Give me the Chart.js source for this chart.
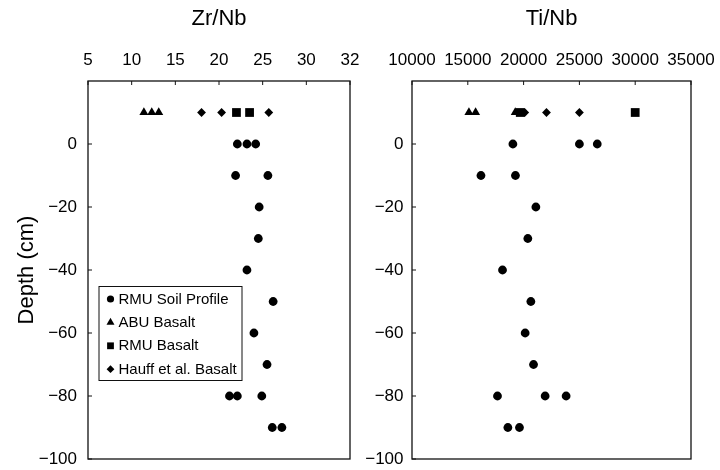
<!DOCTYPE html>
<html lang="en">
<head>
<meta charset="utf-8" />
<title>Zr/Nb and Ti/Nb depth profiles</title>
<script src="https://cdn.jsdelivr.net/npm/chart.js@4.4.1/dist/chart.umd.min.js"></script>
<style>
  html, body { margin: 0; padding: 0; background: #fff; }
  #wrap { position: relative; width: 720px; height: 470px; }
  canvas { position: absolute; top: 0; }
  #left { left: 0; }
  #right { left: 360px; }
</style>
</head>
<body>
<div id="wrap">
  <canvas id="left" width="360" height="470"></canvas>
  <canvas id="right" width="360" height="470"></canvas>
</div>
<script>
// soil samples: depth (cm) and the two ratios
const soilDepth = [0, 0, 0, -10, -10, -20, -30, -40, -50, -60, -70, -80, -80, -80, -90, -90];
const soilZrNb = [22.1, 23.2, 24.2, 21.9, 25.6, 24.6, 24.5, 23.2, 26.2, 24.0, 25.5, 21.2, 22.1, 24.9, 26.1, 27.2];
const soilTiNb = [19040, 25000, 26600, 16180, 19270, 21100, 20380, 18110, 20650, 20140, 20890, 17660, 21930, 23810, 18590, 19630];

// basalt references, all plotted on the +10 row above the profile
const basaltRow = 10;
const abuZrNb = [11.4, 12.3, 13.1];
const abuTiNb = [15100, 15700, 19250];
const rmuZrNb = [22.0, 23.5];
const rmuTiNb = [19700, 30000];
const hauffZrNb = [18.0, 20.3, 25.7];
const hauffTiNb = [20100, 22050, 25000];

const seriesNames = ["RMU Soil Profile", "ABU Basalt", "RMU Basalt", "Hauff et al. Basalt"];

const zrTicks = [5, 10, 15, 20, 25, 30, 35];
const zrTickLabels = ["5", "10", "15", "20", "25", "30", "32"];
const tiTicks = [10000, 15000, 20000, 25000, 30000, 35000];
const tiTickLabels = ["10000", "15000", "20000", "25000", "30000", "35000"];
const depthTicks = [-100, -80, -60, -40, -20, 0];
const depthTickLabels = ["\u2212100", "\u221280", "\u221260", "\u221240", "\u221220", "0"];

Chart.defaults.font.family = '"Liberation Sans", Arial, sans-serif';
Chart.defaults.color = "#000";

function pts(xs, ys) {
  return xs.map(function (x, i) { return { x: x, y: Array.isArray(ys) ? ys[i] : ys }; });
}

const styles = [
  { pointStyle: "circle", radius: 4.4, legendRadius: 3.6 },
  { pointStyle: "triangle", radius: 5.2, legendRadius: 4.6 },
  { pointStyle: "rect", radius: 6.2, legendRadius: 4.8 },
  { pointStyle: "rectRot", radius: 4.4, legendRadius: 3.9 }
];

function datasets(groups) {
  return groups.map(function (data, i) {
    return {
      label: seriesNames[i],
      data: data,
      pointStyle: styles[i].pointStyle,
      pointRadius: styles[i].radius,
      pointHoverRadius: styles[i].radius,
      backgroundColor: "#000",
      borderColor: "#000",
      borderWidth: 0,
      showLine: false
    };
  });
}

// box around the plot plus short inward tick marks
const frame = {
  id: "frame",
  afterDraw(chart) {
    const ctx = chart.ctx, a = chart.chartArea, sx = chart.scales.x, sy = chart.scales.y;
    ctx.save();
    ctx.strokeStyle = "#111";
    ctx.lineWidth = 1.3;
    ctx.strokeRect(a.left, a.top, a.right - a.left, a.bottom - a.top);
    ctx.lineWidth = 1;
    ctx.beginPath();
    sx.ticks.forEach(function (t) {
      const px = sx.getPixelForValue(t.value);
      ctx.moveTo(px, a.top);
      ctx.lineTo(px, a.top + 4);
    });
    sy.ticks.forEach(function (t) {
      const py = sy.getPixelForValue(t.value);
      ctx.moveTo(a.left, py);
      ctx.lineTo(a.left + 4, py);
    });
    ctx.stroke();
    ctx.restore();
  }
};

// boxed legend sitting inside the left panel
const boxLegend = {
  id: "boxLegend",
  afterDraw(chart) {
    const ctx = chart.ctx, a = chart.chartArea;
    const x0 = a.left + 11, y0 = 286.5, w = 143, h = 94;
    ctx.save();
    ctx.fillStyle = "#fff";
    ctx.fillRect(x0, y0, w, h);
    ctx.strokeStyle = "#111";
    ctx.lineWidth = 1;
    ctx.strokeRect(x0, y0, w, h);
    ctx.font = '15px "Liberation Sans", Arial, sans-serif';
    ctx.textBaseline = "middle";
    chart.data.datasets.forEach(function (ds, i) {
      const cy = y0 + 12.5 + i * 23.4;
      ctx.fillStyle = "#000";
      Chart.helpers.drawPoint(ctx, {
        pointStyle: ds.pointStyle, radius: styles[i].legendRadius, rotation: 0, borderWidth: 0
      }, x0 + 11.5, cy);
      ctx.fillStyle = "#000";
      ctx.fillText(ds.label, x0 + 19.5, cy + 0.5);
    });
    ctx.restore();
  }
};

function options(cfg) {
  return {
    responsive: false,
    animation: false,
    events: [],
    layout: { padding: { left: 0, top: 0, right: cfg.padRight, bottom: 11 } },
    plugins: { legend: { display: false }, tooltip: { enabled: false } },
    scales: {
      x: {
        type: "linear",
        position: "top",
        min: cfg.xTicks[0],
        max: cfg.xTicks[cfg.xTicks.length - 1],
        afterBuildTicks: function (s) { s.ticks = cfg.xTicks.map(function (v) { return { value: v }; }); },
        afterFit: function (s) { s.height = 81; s.paddingLeft = 0; s.paddingRight = 0; },
        grid: { display: false, drawTicks: false },
        border: { display: false },
        ticks: {
          autoSkip: false,
          maxRotation: 0,
          padding: 10,
          font: { size: 17 },
          color: "#000",
          callback: function (v) { return cfg.xLabels[cfg.xTicks.indexOf(v)]; }
        },
        title: { display: true, text: cfg.xTitle, font: { size: 22 }, color: "#000", padding: { top: 6, bottom: 0 } }
      },
      y: {
        type: "linear",
        min: -100,
        max: 20,
        afterBuildTicks: function (s) { s.ticks = depthTicks.map(function (v) { return { value: v }; }); },
        afterFit: function (s) { s.width = cfg.yWidth; s.paddingTop = 0; s.paddingBottom = 0; },
        grid: { display: false, drawTicks: false },
        border: { display: false },
        ticks: {
          padding: cfg.yPad,
          font: { size: 17 },
          color: "#000",
          callback: function (v) { return depthTickLabels[depthTicks.indexOf(v)]; }
        },
        title: { display: cfg.yTitle, text: "Depth (cm)", font: { size: 22 }, color: "#000", padding: { top: 14, bottom: 0 } }
      }
    }
  };
}

new Chart(document.getElementById("left"), {
  type: "scatter",
  data: {
    datasets: datasets([
      pts(soilZrNb, soilDepth),
      pts(abuZrNb, basaltRow),
      pts(rmuZrNb, basaltRow),
      pts(hauffZrNb, basaltRow)
    ])
  },
  options: options({ xTicks: zrTicks, xLabels: zrTickLabels, xTitle: "Zr/Nb", yWidth: 88, yPad: 11, yTitle: true, padRight: 10 }),
  plugins: [frame, boxLegend]
});

new Chart(document.getElementById("right"), {
  type: "scatter",
  data: {
    datasets: datasets([
      pts(soilTiNb, soilDepth),
      pts(abuTiNb, basaltRow),
      pts(rmuTiNb, basaltRow),
      pts(hauffTiNb, basaltRow)
    ])
  },
  options: options({ xTicks: tiTicks, xLabels: tiTickLabels, xTitle: "Ti/Nb", yWidth: 52, yPad: 8.5, yTitle: false, padRight: 29 }),
  plugins: [frame]
});
</script>
</body>
</html>
